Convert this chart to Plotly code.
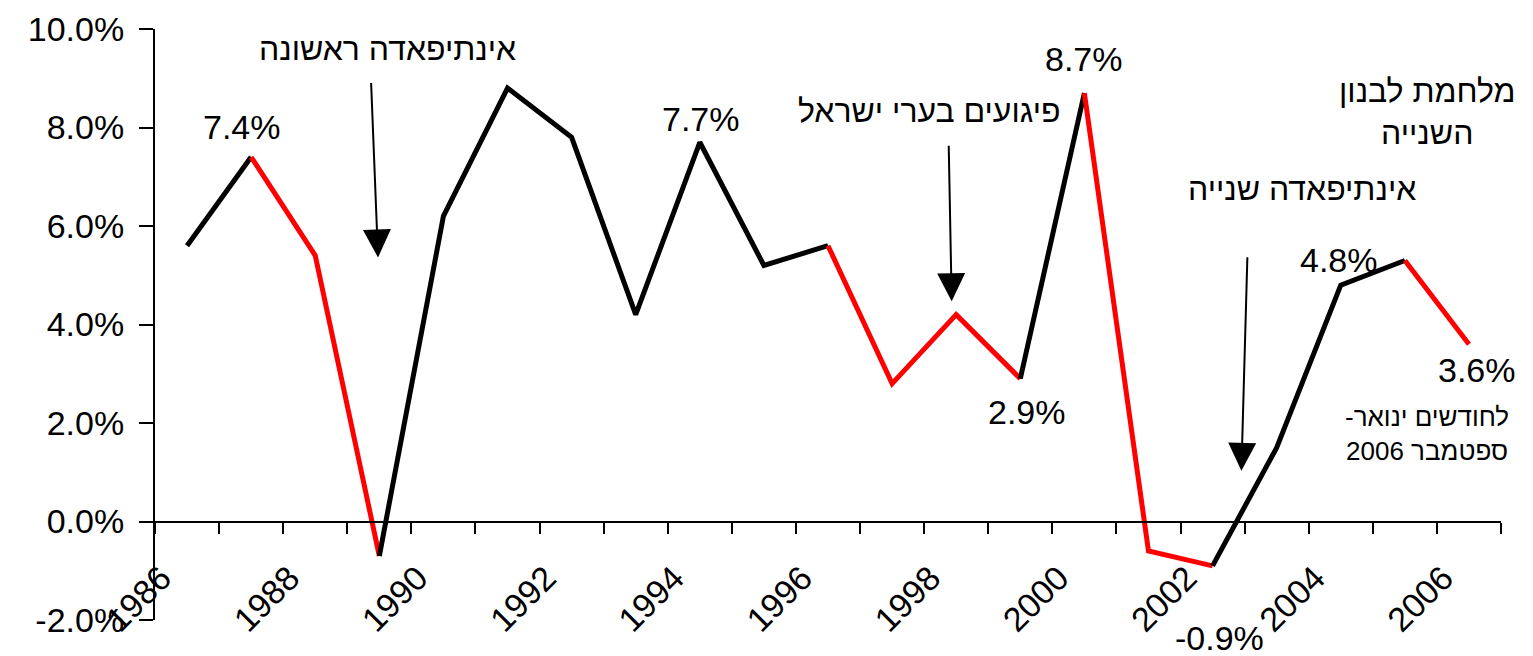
import plotly.graph_objects as go

# annual GDP growth, Israel (percent)
years = list(range(1986, 2007))
growth = [5.6, 7.4, 5.4, -0.7, 6.2, 8.8, 7.8, 4.2, 7.7, 5.2, 5.6,
          2.8, 4.2, 2.9, 8.7, -0.6, -0.9, 1.5, 4.8, 5.3, 3.6]

# segments (start year) drawn in red
red_starts = [1987, 1988, 1996, 1997, 1998, 2000, 2001, 2005]

# labelled points
label_years = [1987, 1994, 2000, 1999, 2004, 2006, 2002]

ytick_vals = [-2, 0, 2, 4, 6, 8, 10]
ytick_text = ['-2.0%', '0.0%', '2.0%', '4.0%', '6.0%', '8.0%', '10.0%']

events = ['אינתיפאדה ראשונה', 'פיגועים בערי ישראל', 'אינתיפאדה שנייה',
          'מלחמת לבנון<br>השנייה']
note = 'לחודשים ינואר-\u200f<br>ספטמבר 2006'

FONT = 'Liberation Sans, Arial, DejaVu Sans'

fig = go.Figure()

# group consecutive segments of the same colour into one trace
runs = []
for i in range(len(years) - 1):
    col = 'red' if years[i] in red_starts else 'black'
    if runs and runs[-1][0] == col and runs[-1][2] == i:
        runs[-1][2] = i + 1
    else:
        runs.append([col, i, i + 1])

for col, a, b in runs:
    fig.add_trace(go.Scatter(
        x=years[a:b + 1], y=growth[a:b + 1], mode='lines',
        line=dict(color='#ff0000' if col == 'red' else '#000000', width=5),
        showlegend=False, hoverinfo='skip'))

# value labels
shifts = {1987: (-9, 30), 1994: (1, 23), 2000: (0, 34), 1999: (7, -33),
          2004: (-2, 25), 2006: (8, -26), 2002: (7, -72)}
for yr in label_years:
    v = growth[years.index(yr)]
    dx, dy = shifts[yr]
    fig.add_annotation(x=yr, y=v, text=f'{v:.1f}%', showarrow=False,
                       xshift=dx, yshift=dy, font=dict(size=34, color='black'))

# event texts
text_pos = [(1989.13, 9.6), (1997.58, 8.34), (2003.4, 6.76), (2005.35, 8.32)]
for t, (x, y) in zip(events, text_pos):
    fig.add_annotation(x=x, y=y, text=t, showarrow=False,
                       font=dict(size=32, color='black'))
fig.add_annotation(x=2005.35, y=1.78, text=note, showarrow=False,
                   font=dict(size=26, color='black'))

# arrows
arrows = [(1988.98, 5.36, -7, -176), (1997.93, 4.47, -3, -157),
          (2002.45, 1.03, 6, -215), (2006.51, 4.0, -4, -180)]
for x, y, ax, ay in arrows:
    fig.add_annotation(x=x, y=y, ax=ax, ay=ay, text='', showarrow=True,
                       arrowhead=2, arrowsize=2.8, arrowwidth=2,
                       arrowcolor='black', standoff=0)

# page body has an 8px margin, so the margins below are shifted by 8px
fig.update_layout(
    width=1533, height=656,
    margin=dict(l=147, r=40, t=21, b=44),
    plot_bgcolor='white', paper_bgcolor='white',
    font=dict(family=FONT, size=34, color='black'),
    xaxis=dict(
        range=[1985.5, 2006.5], anchor='free', position=2 / 12,
        showline=True, linecolor='black', linewidth=2,
        showgrid=False, zeroline=False,
        tickmode='array', tickvals=[y - 0.4 for y in years[::2]],
        ticktext=[str(y) for y in years[::2]],
        ticks='', tickangle=-45, ticklabelstandoff=22,
        tickfont=dict(size=34),
        minor=dict(tickmode='array',
                   tickvals=[y - 0.5 for y in years] + [years[-1] + 0.5],
                   ticks='outside', ticklen=11, tickwidth=2,
                   tickcolor='black', showgrid=False),
        automargin=False),
    yaxis=dict(
        range=[-2, 10], showline=True, linecolor='black', linewidth=2,
        showgrid=False, zeroline=False,
        tickmode='array', tickvals=ytick_vals, ticktext=ytick_text,
        ticks='outside', ticklen=14, tickwidth=2, tickcolor='black',
        ticklabelstandoff=8,
        tickfont=dict(size=34), automargin=False),
)

fig.write_html('out.html')
